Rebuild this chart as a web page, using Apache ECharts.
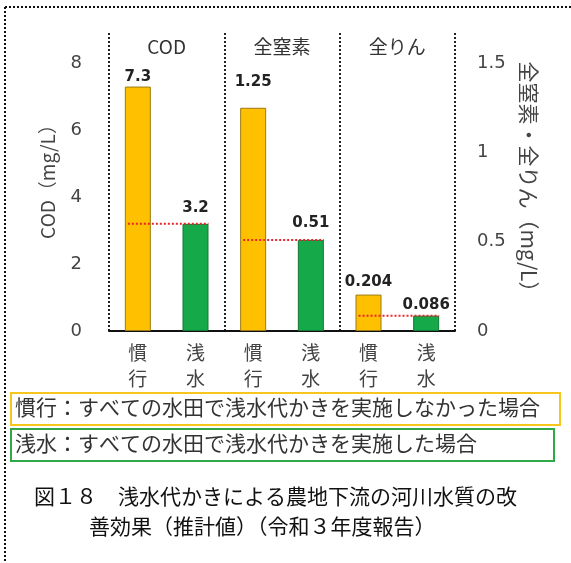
<!DOCTYPE html>
<html>
<head>
<meta charset="utf-8">
<script src="https://cdn.jsdelivr.net/npm/echarts@6/dist/echarts.min.js"></script>
<style>
  html, body { margin: 0; padding: 0; background: #fff; }
  #chart { width: 571px; height: 563px; }
</style>
</head>
<body>
<div id="chart"></div>
<script>
// 横軸の区分
const groups = ["COD", "全窒素", "全りん"];
const categories = ["慣行", "浅水", "慣行", "浅水", "慣行", "浅水"];
// 値 (COD は左軸, 全窒素・全りん は右軸)
const codValues = [7.3, 3.2];
const nitrogenValues = [1.25, 0.51];
const phosphorusValues = [0.204, 0.086];
const leftTicks = [0, 2, 4, 6, 8];
const rightTicks = [0, 0.5, 1, 1.5];

const legendTexts = [
  "慣行：すべての水田で浅水代かきを実施しなかった場合",
  "浅水：すべての水田で浅水代かきを実施した場合"
];
const captionLines = [
  "図１８　浅水代かきによる農地下流の河川水質の改",
  "善効果（推計値）（令和３年度報告）"
];

// 見た目
const colors = { "慣行": "#FFC000", "浅水": "#16A94A" };
const borders = { "慣行": "#9B7A12", "浅水": "#0E7A33" };
const labelGap = [2, 8, 18, 9, 5, 3];
const FONT = "'Noto Sans CJK JP', sans-serif";
const NUM_FONT = "'DejaVu Sans', sans-serif";

const chart = echarts.init(document.getElementById("chart"));

function barItem(v, i) {
  const m = categories[i];
  return {
    value: v,
    itemStyle: { color: colors[m], borderColor: borders[m], borderWidth: 1 },
    label: { distance: labelGap[i] }
  };
}

// 左軸系列 (COD) と右軸系列 (全窒素・全りん)
const leftData = categories.map((c, i) => (i < 2 ? barItem(codValues[i], i) : "-"));
const npValues = nitrogenValues.concat(phosphorusValues);
const rightData = categories.map((c, i) => (i >= 2 ? barItem(npValues[i - 2], i) : "-"));

// 赤点線: 浅水の値を慣行のバーまで伸ばす
const leftRef = [[0, 1, codValues[1]]];
const rightRef = [[2, 3, nitrogenValues[1]], [4, 5, phosphorusValues[1]]];

const leftMax = 8.9;
const rightMax = leftMax / 8 * 1.5;
const BAR_W = 26;

function refLine(params, api) {
  const p1 = api.coord([api.value(0), api.value(2)]);
  const p2 = api.coord([api.value(1), api.value(2)]);
  return {
    type: "line",
    shape: { x1: p1[0] - BAR_W / 2 + 3, y1: p1[1], x2: p2[0] + BAR_W / 2, y2: p2[1] },
    style: { stroke: "#E8262B", lineWidth: 2, lineDash: [2, 2] },
    z2: 10
  };
}

const labelStyle = {
  show: true,
  position: "top",
  fontFamily: NUM_FONT,
  fontWeight: "bold",
  fontSize: 15,
  color: "#222"
};

const option = {
  animation: false,
  backgroundColor: "#fff",
  grid: { left: 109, right: 116, top: 33, bottom: 232 },
  xAxis: [
    {
      type: "category",
      data: categories,
      position: "bottom",
      axisLine: { show: true, lineStyle: { color: "#111", width: 2 } },
      axisTick: { show: false },
      axisLabel: {
        fontFamily: FONT,
        fontSize: 19,
        color: "#444",
        lineHeight: 26,
        margin: 9,
        formatter: (v) => v.split("").join("\n")
      }
    },
    {
      type: "category",
      data: groups,
      position: "top",
      axisLine: { show: false },
      axisTick: { show: false },
      axisLabel: {
        inside: true,
        margin: 4,
        fontFamily: FONT,
        fontSize: 19,
        color: "#333"
      },
      splitLine: {
        show: true,
        lineStyle: { color: "#222", width: 2, type: "dotted" }
      }
    }
  ],
  yAxis: [
    {
      type: "value",
      min: leftTicks[0],
      max: leftMax,
      interval: leftTicks[1] - leftTicks[0],
      name: "COD（mg/L）",
      nameLocation: "middle",
      nameGap: 52,
      nameRotate: 90,
      nameTextStyle: { fontFamily: FONT, fontSize: 19, color: "#444", padding: [0, 0, 0, 10] },
      axisLine: { show: false },
      axisTick: { show: false },
      splitLine: { show: false },
      axisLabel: {
        showMaxLabel: false,
        margin: 27,
        fontFamily: NUM_FONT,
        fontSize: 18,
        color: "#444"
      }
    },
    {
      type: "value",
      min: rightTicks[0],
      max: rightMax,
      interval: rightTicks[1] - rightTicks[0],
      name: "全窒素・全りん（mg/L）",
      nameLocation: "middle",
      nameGap: 63,
      nameRotate: -90,
      nameTextStyle: { fontFamily: FONT, fontSize: 21, color: "#444" },
      axisLine: { show: false },
      axisTick: { show: false },
      splitLine: { show: false },
      axisLabel: {
        showMaxLabel: false,
        margin: 22,
        fontFamily: NUM_FONT,
        fontSize: 18,
        color: "#444"
      }
    }
  ],
  series: [
    {
      name: "COD",
      type: "bar",
      yAxisIndex: 0,
      barWidth: BAR_W,
      barGap: "-100%",
      data: leftData,
      label: labelStyle
    },
    {
      name: "全窒素・全りん",
      type: "bar",
      yAxisIndex: 1,
      barWidth: BAR_W,
      barGap: "-100%",
      data: rightData,
      label: labelStyle
    },
    {
      type: "custom",
      yAxisIndex: 0,
      renderItem: refLine,
      data: leftRef,
      z: 5
    },
    {
      type: "custom",
      yAxisIndex: 1,
      renderItem: refLine,
      data: rightRef,
      z: 5
    }
  ],
  graphic: [
    // 外枠の点線
    { type: "line", shape: { x1: 5, y1: 7, x2: 571, y2: 7 }, style: { stroke: "#111", lineWidth: 2, lineDash: [2, 2] } },
    { type: "line", shape: { x1: 5, y1: 7, x2: 5, y2: 563 }, style: { stroke: "#111", lineWidth: 2, lineDash: [2, 2] } },
    // 凡例の枠
    { type: "rect", shape: { x: 11, y: 393, width: 549, height: 32 }, style: { fill: "#fff", stroke: "#F5C71A", lineWidth: 2 } },
    { type: "text", left: 15, top: 397, style: { text: legendTexts[0], font: "21px " + FONT, fill: "#333" } },
    { type: "rect", shape: { x: 11, y: 429, width: 543, height: 32 }, style: { fill: "#fff", stroke: "#30A84A", lineWidth: 2 } },
    { type: "text", left: 15, top: 433, style: { text: legendTexts[1], font: "21px " + FONT, fill: "#333" } },
    // 図題
    { type: "text", left: 34, top: 486, style: { text: captionLines[0], font: "21px " + FONT, fill: "#111" } },
    { type: "text", left: 89, top: 516, style: { text: captionLines[1], font: "21px " + FONT, fill: "#111" } }
  ]
};

chart.setOption(option);
</script>
</body>
</html>
